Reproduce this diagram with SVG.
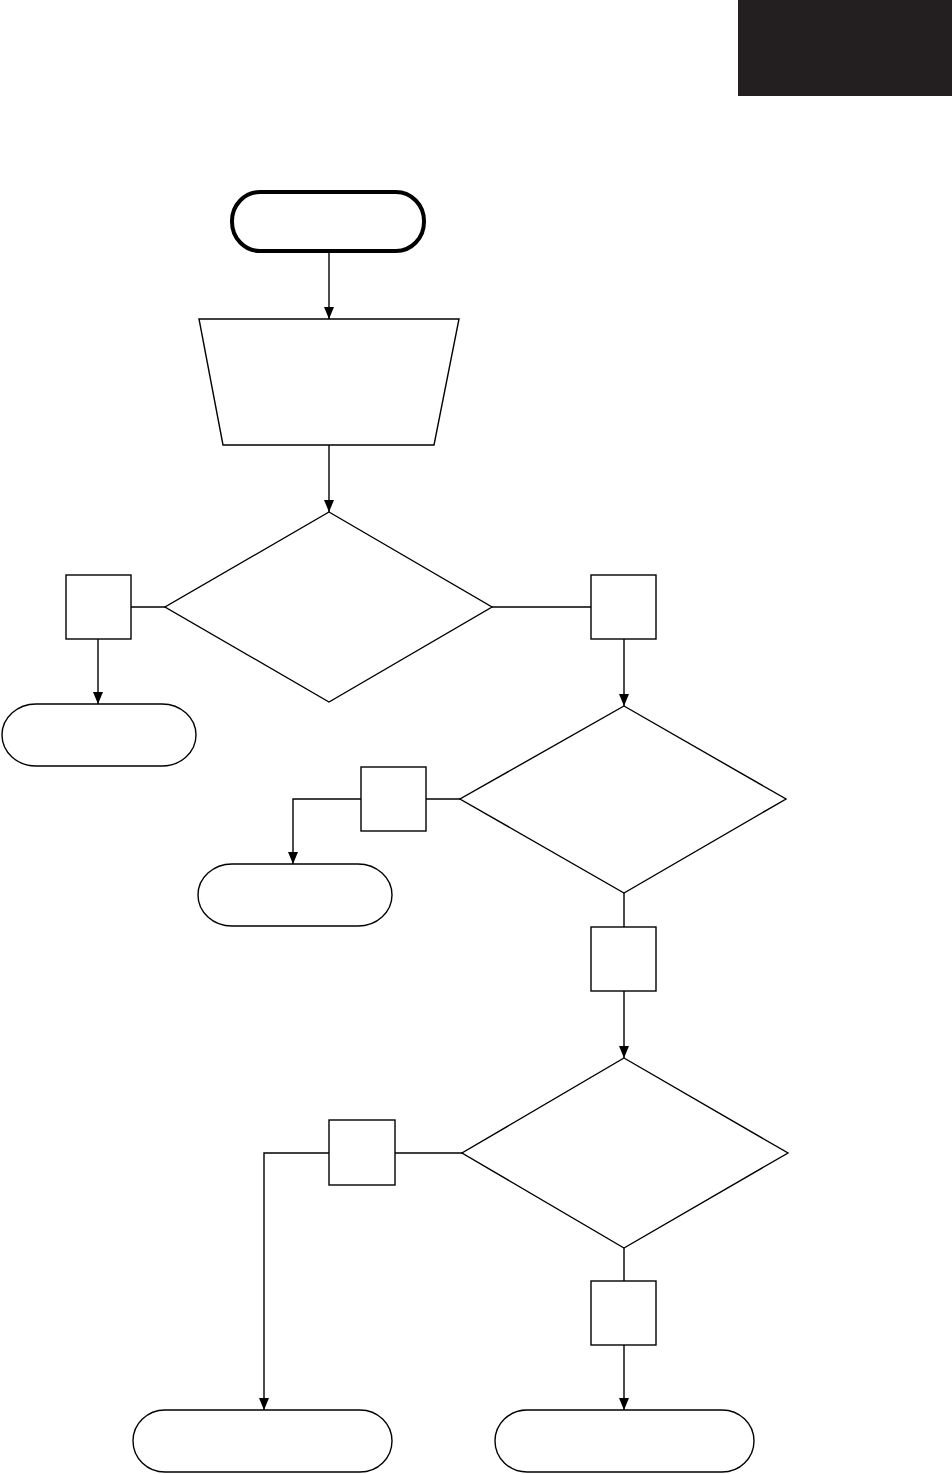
<svg xmlns="http://www.w3.org/2000/svg" width="952" height="1474" viewBox="0 0 952 1474">
<style>
.s{fill:#fff;stroke:#000;stroke-width:1.4}
.c{fill:none;stroke:#000;stroke-width:1.4}
</style>
<defs>
<marker id="ah" markerUnits="userSpaceOnUse" markerWidth="10" markerHeight="12" viewBox="0 0 10 12" refX="5" refY="12" orient="auto-start-reverse">
<path d="M0,0 L10,0 L5,12 Z" fill="#000" transform="rotate(0)"/>
</marker>
<marker id="a" markerUnits="userSpaceOnUse" markerWidth="12" markerHeight="10" viewBox="0 0 12 10" refX="12" refY="5" orient="auto">
<path d="M0,0 L12,5 L0,10 Z" fill="#000"/>
</marker>
</defs>
<rect id="tab" x="738" y="0" width="214" height="96" fill="#231f20"/>
<g id="start"><rect x="232" y="192" width="192" height="59" rx="28" ry="29" fill="#fff" stroke="#000" stroke-width="4"/></g>
<g id="input"><path class="s" d="M199,319 L459,319 L434,445 L223,445 Z"/></g>
<g id="d1"><path class="s" d="M329,512 L492,607 L329,702 L165,607 Z"/></g>
<g id="b1"><rect class="s" x="66" y="575" width="65" height="64"/></g>
<g id="b2"><rect class="s" x="591" y="575" width="65" height="64"/></g>
<g id="t1"><rect class="s" x="2" y="704" width="194" height="62" rx="34" ry="31"/></g>
<g id="d2"><path class="s" d="M624,706 L786,799 L624,893 L460,799 Z"/></g>
<g id="b3"><rect class="s" x="361" y="767" width="65" height="64"/></g>
<g id="t2"><rect class="s" x="198" y="864" width="194" height="62" rx="34" ry="31"/></g>
<g id="b4"><rect class="s" x="591" y="927" width="65" height="64"/></g>
<g id="d3"><path class="s" d="M624,1058 L788,1153 L624,1248 L462,1153 Z"/></g>
<g id="b5"><rect class="s" x="329" y="1120" width="66" height="65"/></g>
<g id="b6"><rect class="s" x="591" y="1281" width="65" height="64"/></g>
<g id="t3"><rect class="s" x="133" y="1410" width="259" height="62" rx="32" ry="31"/></g>
<g id="t4"><rect class="s" x="495" y="1410" width="259" height="62" rx="32" ry="31"/></g>
<g id="connectors">
<path class="c" d="M329,252 L329,319" marker-end="url(#a)"/>
<path class="c" d="M329,445 L329,512" marker-end="url(#a)"/>
<path class="c" d="M131,607 L165,607"/>
<path class="c" d="M98,639 L98,704" marker-end="url(#a)"/>
<path class="c" d="M492,607 L591,607"/>
<path class="c" d="M624,639 L624,706" marker-end="url(#a)"/>
<path class="c" d="M426,799 L460,799"/>
<path class="c" d="M361,799 L293,799 L293,864" marker-end="url(#a)"/>
<path class="c" d="M624,893 L624,927"/>
<path class="c" d="M624,991 L624,1058" marker-end="url(#a)"/>
<path class="c" d="M395,1153 L462,1153"/>
<path class="c" d="M329,1153 L264,1153 L264,1410" marker-end="url(#a)"/>
<path class="c" d="M624,1248 L624,1281"/>
<path class="c" d="M624,1345 L624,1410" marker-end="url(#a)"/>
</g>
</svg>
